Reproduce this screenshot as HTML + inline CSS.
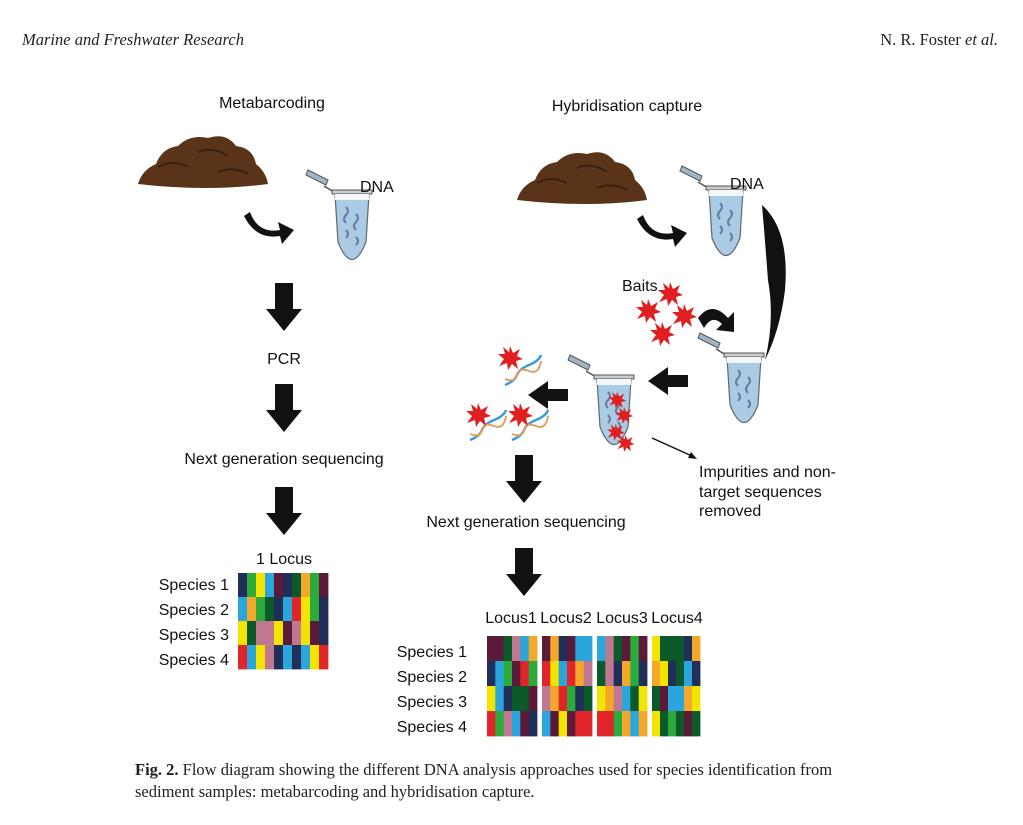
<!DOCTYPE html>
<html><head><meta charset="utf-8"><style>
body{margin:0;background:#fff;width:1023px;height:825px;overflow:hidden}
svg{display:block}
.s{font-family:"Liberation Sans",sans-serif;font-size:16px;fill:#111}
.r{font-family:"Liberation Serif",serif;font-size:16.5px;fill:#222}
</style></head><body>
<svg id="g" width="1023" height="825" viewBox="0 0 1023 825" xmlns="http://www.w3.org/2000/svg">
<defs>
<g id="tube">
<path d="M-8,-22 L12,-12 L10,-7 L-10,-17Z" fill="#9fb6c6" stroke="#555" stroke-width="1"/>
<path d="M8,-6 L18,0" stroke="#555" stroke-width="1.5"/>
<rect x="16" y="-2" width="40" height="4" fill="#ccc" stroke="#555"/>
<path d="M19,2 L53,2 L50,50 Q36,85 22,50Z" fill="#a9cbe6" stroke="#666" stroke-width="1.2"/>
<path d="M19,2 L53,2 L53,8 L19,8Z" fill="#f2f7fb"/>
<g fill="none" stroke="#6b7c9a" stroke-width="2"><path d="M30,15 q4,4 0,8 q-4,4 0,8"/><path d="M40,22 q4,4 0,8 q-4,4 0,8"/><path d="M30,38 q4,4 0,8"/><path d="M40,45 q4,4 0,8"/></g>
</g>
<g id="dn"><path d="M-9,0 h18 v26 h9 l-18,22 l-18,-22 h9z" fill="#111"/></g>
<g id="lf"><path d="M0,0 l20,-14 v8 h20 v12 h-20 v8z" fill="#111"/></g>
<g id="star"><path d="M0,-12 L3,-5 L10,-9 L7,-2 L13,1 L6,3 L8,11 L2,6 L-2,12 L-3,5 L-11,8 L-6,1 L-12,-4 L-5,-4 L-7,-11 L-1,-6Z" fill="#e02020"/></g>
<g id="dna"><path d="M0,0 q10,-4 12,-10 q2,-6 12,-10 q10,-4 12,-10" fill="none" stroke="#3a9ad8" stroke-width="2.5"/><path d="M0,-6 q10,4 12,-4 q2,-8 12,-4 q10,4 12,-10" fill="none" stroke="#e0a060" stroke-width="2"/></g>
<g id="soil"><path d="M0,52 Q4,38 18,32 Q24,16 40,14 Q52,2 70,6 Q88,0 98,14 Q115,16 118,32 Q128,40 130,52 Q70,60 0,52Z" fill="#5a3418"/><path d="M20,35 q15,-8 30,0 M60,20 q15,-6 30,4 M80,40 q15,-6 30,2" stroke="#3b200e" fill="none" stroke-width="2"/></g>
<g id="curl"><path d="M0,0 Q8,22 30,18 L28,10 L44,18 L32,32 L30,24 Q6,28 -6,4Z" fill="#111"/></g>
</defs>
<text class="r" x="22" y="45" font-style="italic">Marine and Freshwater Research</text>
<text class="r" x="998" y="45" text-anchor="end">N. R. Foster <tspan font-style="italic">et al.</tspan></text>
<text class="s" x="272" y="108" text-anchor="middle">Metabarcoding</text>
<text class="s" x="627" y="111" text-anchor="middle">Hybridisation capture</text>
<use href="#soil" x="138" y="132"/>
<use href="#soil" x="517" y="148"/>
<use href="#tube" x="316" y="192"/>
<use href="#tube" x="690" y="188"/>
<use href="#tube" x="708" y="355"/>
<use href="#tube" x="578" y="377"/>
<g transform="translate(617,400) scale(0.7)"><use href="#star" x="0" y="0"/><use href="#star" x="10" y="22"/><use href="#star" x="-2" y="46"/><use href="#star" x="12" y="62"/></g>
<text class="s" x="360" y="192">DNA</text>
<text class="s" x="730" y="189">DNA</text>
<use href="#curl" x="250" y="212"/>
<use href="#curl" x="643" y="215"/>
<path d="M698,318 Q712,300 728,318 L734,312 L734,332 L716,330 L722,324 Q712,314 704,328Z" fill="#111"/>
<path d="M762,205 Q790,230 785,290 Q780,330 765,360 Q775,320 768,280 Q765,240 762,205Z" fill="#111"/>
<text class="s" x="622" y="291">Baits</text>
<use href="#star" x="648" y="311"/><use href="#star" x="670" y="294"/><use href="#star" x="684" y="316"/><use href="#star" x="662" y="334"/>
<use href="#dn" x="284" y="283"/><use href="#dn" x="284" y="384"/><use href="#dn" x="284" y="487"/>
<use href="#dn" x="524" y="455"/><use href="#dn" x="524" y="548"/>
<use href="#lf" x="648" y="381"/><use href="#lf" x="528" y="395"/>
<use href="#dna" x="505" y="385"/><use href="#star" x="510" y="358"/>
<use href="#dna" x="470" y="440"/><use href="#star" x="478" y="415"/>
<use href="#dna" x="512" y="440"/><use href="#star" x="520" y="415"/>
<path d="M652,438 L692,456" stroke="#111" stroke-width="1.5"/><path d="M697,459 l-9,-1 l3,-6z" fill="#111"/>
<text class="s" x="699" y="477">Impurities and non-</text>
<text class="s" x="699" y="497">target sequences</text>
<text class="s" x="699" y="516">removed</text>
<text class="s" x="284" y="364" text-anchor="middle">PCR</text>
<text class="s" x="284" y="464" text-anchor="middle">Next generation sequencing</text>
<text class="s" x="526" y="527" text-anchor="middle">Next generation sequencing</text>
<text class="s" x="284" y="564" text-anchor="middle">1 Locus</text>
<g class="s" text-anchor="end"><text x="229" y="590">Species 1</text><text x="229" y="615">Species 2</text><text x="229" y="640">Species 3</text><text x="229" y="665">Species 4</text>
<text x="467" y="657">Species 1</text><text x="467" y="682">Species 2</text><text x="467" y="707">Species 3</text><text x="467" y="732">Species 4</text></g>
<g class="s" text-anchor="middle"><text x="511" y="623">Locus1</text><text x="566" y="623">Locus2</text><text x="622" y="623">Locus3</text><text x="677" y="623">Locus4</text></g>
<g id="grids"></g>
<text class="r" x="135" y="775"><tspan font-weight="bold">Fig. 2.</tspan>    Flow diagram showing the different DNA analysis approaches used for species identification from</text>
<text class="r" x="135" y="797">sediment samples: metabarcoding and hybridisation capture.</text>
</svg>
<script>
var C=["#0c5a2a","#f2e300","#2aa6dc","#5a1a38","#1f2f5a","#2cab3c","#e0262a","#f4a82a","#c07890"];
var seed=7;function rnd(){seed=(seed*9301+49297)%233280;return seed/233280;}
var g=document.getElementById("grids"),h="";
function grid(x,y,w,hh,cols){var rh=hh/4,cw=w/cols;for(var r=0;r<4;r++)for(var c=0;c<cols;c++){h+='<rect x="'+(x+c*cw).toFixed(1)+'" y="'+(y+r*rh).toFixed(1)+'" width="'+(cw+0.4).toFixed(1)+'" height="'+(rh+0.4).toFixed(1)+'" fill="'+C[Math.floor(rnd()*C.length)]+'"/>';}}
grid(238,573,90,96,10);
grid(487,636,50,100,6);grid(542,636,50,100,6);grid(597,636,50,100,6);grid(652,636,48,100,6);
g.innerHTML=h;
</script>
</body></html>
